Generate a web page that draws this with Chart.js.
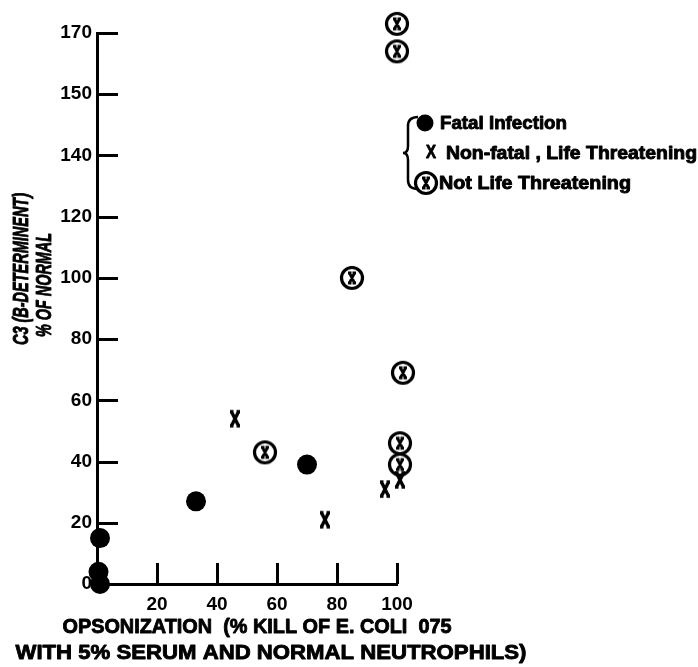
<!DOCTYPE html>
<html>
<head>
<meta charset="utf-8">
<script src="https://cdn.jsdelivr.net/npm/chart.js@4.4.1/dist/chart.umd.min.js"></script>
<style>
  html, body { margin: 0; padding: 0; background: #fff; }
</style>
</head>
<body>
<canvas id="chart" width="698" height="667"></canvas>
<script>
// y axis in the figure is not linear: every tick is the same distance apart
const yTickValues = [0, 20, 40, 60, 80, 100, 120, 140, 150, 170];
const xTickValues = [20, 40, 60, 80, 100];

// Fatal infection (filled circles)
const fatalX = [1, 0.5, 1, 33, 70];
const fatalY = [15, 4, 0, 27, 39];
// Non-fatal, life threatening (x)
const nonFatalX = [46, 76, 96, 101];
const nonFatalY = [54, 21, 31, 34];
// Not life threatening (circled x)
const notThreatX = [100, 100, 85, 102, 101, 101, 56];
const notThreatY = [173, 164, 100, 69, 46, 39, 43];

const legendLabels = ["Fatal Infection", "Non-fatal , Life Threatening", "Not Life Threatening"];
const yTitle = ["C3 (B-DETERMINENT)", "% OF NORMAL"];
const xTitle = ["OPSONIZATION  (% KILL OF E. COLI  075", "WITH 5% SERUM AND NORMAL NEUTROPHILS)"];

const FONT = "'Liberation Sans', Arial, sans-serif";

// value -> slot position between evenly spaced ticks
function valueToSlot(v) {
  const t = yTickValues;
  const n = t.length;
  if (v <= t[0]) return (v - t[0]) / (t[1] - t[0]);
  for (let i = 0; i < n - 1; i++) {
    if (v <= t[i + 1]) return i + (v - t[i]) / (t[i + 1] - t[i]);
  }
  return n - 1 + (v - t[n - 1]) / (t[n - 1] - t[n - 2]);
}

class SteppedScale extends Chart.LinearScale {
  static id = 'stepped';
  determineDataLimits() {
    this.min = yTickValues[0];
    this.max = yTickValues[yTickValues.length - 1];
  }
  buildTicks() {
    return yTickValues.map(v => ({ value: v }));
  }
  getPixelForValue(value) {
    if (value === null || isNaN(value)) return NaN;
    return this.getPixelForDecimal(valueToSlot(value) / (yTickValues.length - 1));
  }
}
Chart.register(SteppedScale);

function makeMark(size, draw) {
  const c = document.createElement('canvas');
  c.width = c.height = size;
  const g = c.getContext('2d');
  g.translate(size / 2, size / 2);
  g.strokeStyle = '#000';
  draw(g);
  return c;
}
function drawX(g, w, h, lw) {
  g.lineWidth = lw;
  g.beginPath();
  g.moveTo(-w, -h); g.lineTo(w, h);
  g.moveTo(w, -h); g.lineTo(-w, h);
  // flared ends
  g.moveTo(-w - 1.5, -h); g.lineTo(-w + 2, -h);
  g.moveTo(w - 2, -h); g.lineTo(w + 1.5, -h);
  g.moveTo(-w - 1.5, h); g.lineTo(-w + 2, h);
  g.moveTo(w - 2, h); g.lineTo(w + 1.5, h);
  g.stroke();
}
const xMark = makeMark(22, g => drawX(g, 3.5, 7, 3.4));
const circledX = makeMark(28, g => {
  g.lineWidth = 3.2;
  g.beginPath();
  g.arc(0, 0, 10.5, 0, Math.PI * 2);
  g.stroke();
  drawX(g, 2.5, 5, 2.8);
});

function fitText(ctx, text, cx, cy, width, font, angle) {
  ctx.save();
  ctx.font = font;
  const w = ctx.measureText(text).width;
  ctx.translate(cx, cy);
  if (angle) ctx.rotate(angle);
  ctx.scale(width / w, 1);
  ctx.textAlign = 'center';
  ctx.textBaseline = 'middle';
  ctx.fillStyle = '#000';
  ctx.strokeStyle = '#000';
  ctx.lineWidth = 0.9;
  ctx.lineJoin = 'round';
  ctx.fillText(text, 0, 0);
  ctx.strokeText(text, 0, 0);
  ctx.restore();
}

const decor = {
  id: 'decor',
  beforeDatasetsDraw(chart) {
    const { ctx, scales: { x, y } } = chart;
    ctx.save();
    ctx.strokeStyle = '#000';
    ctx.lineWidth = 3;
    ctx.beginPath();
    yTickValues.slice(1).forEach(v => {
      const py = Math.round(y.getPixelForValue(v)) + 0.5;
      ctx.moveTo(x.left, py);
      ctx.lineTo(x.left + 21, py);
    });
    xTickValues.forEach(v => {
      const px = Math.round(x.getPixelForValue(v)) + 0.5;
      ctx.moveTo(px, y.bottom);
      ctx.lineTo(px, y.bottom - 21);
    });
    ctx.stroke();
    ctx.restore();
  },
  afterDraw(chart) {
    const { ctx } = chart;
    // axis titles
    fitText(ctx, yTitle[0], 22, 269, 152, "italic bold 22px " + FONT, -Math.PI / 2);
    fitText(ctx, yTitle[1], 45, 285, 104, "italic bold 22px " + FONT, -Math.PI / 2);
    fitText(ctx, xTitle[0], 257, 627, 389, "bold 21px " + FONT);
    fitText(ctx, xTitle[1], 271, 653, 511, "bold 21px " + FONT);

    // legend with brace
    ctx.save();
    ctx.strokeStyle = '#000';
    ctx.lineWidth = 2.5;
    ctx.beginPath();
    ctx.moveTo(418, 117);
    ctx.quadraticCurveTo(408, 117, 408, 126);
    ctx.lineTo(408, 146);
    ctx.quadraticCurveTo(408, 153, 403, 153);
    ctx.quadraticCurveTo(408, 153, 408, 160);
    ctx.lineTo(408, 180);
    ctx.quadraticCurveTo(408, 189, 418, 189);
    ctx.stroke();
    ctx.fillStyle = '#000';
    ctx.beginPath();
    ctx.arc(425, 123, 8.5, 0, Math.PI * 2);
    ctx.fill();
    ctx.drawImage(circledX, 426 - 14, 183 - 14);
    ctx.restore();
    fitText(ctx, "X", 431, 153, 10, "bold 18px " + FONT);
    fitText(ctx, legendLabels[0], 440 + 63.5, 124, 127, "bold 18px " + FONT);
    fitText(ctx, legendLabels[1], 446 + 125.5, 154, 251, "bold 18px " + FONT);
    fitText(ctx, legendLabels[2], 439 + 96, 184, 192, "bold 18px " + FONT);
  }
};

const tickFont = { family: FONT, size: 19, weight: 'bold' };

new Chart(document.getElementById('chart'), {
  type: 'scatter',
  data: {
    datasets: [
      {
        label: legendLabels[0],
        data: fatalX.map((x, i) => ({ x, y: fatalY[i] })),
        pointStyle: 'circle',
        pointRadius: 10,
        backgroundColor: '#000',
        borderColor: '#000',
        borderWidth: 0,
        clip: false
      },
      {
        label: legendLabels[1],
        data: nonFatalX.map((x, i) => ({ x, y: nonFatalY[i] })),
        pointStyle: xMark,
        pointRadius: 14,
        clip: false
      },
      {
        label: legendLabels[2],
        data: notThreatX.map((x, i) => ({ x, y: notThreatY[i] })),
        pointStyle: circledX,
        pointRadius: 16,
        clip: false
      }
    ]
  },
  options: {
    responsive: false,
    animation: false,
    devicePixelRatio: 1,
    layout: { padding: { top: 33, right: 301, bottom: 0, left: 0 } },
    plugins: { legend: { display: false }, tooltip: { enabled: false } },
    scales: {
      x: {
        type: 'linear',
        min: 0,
        max: 100,
        grid: { display: false, drawTicks: false },
        border: { display: true, width: 3, color: '#000' },
        ticks: {
          stepSize: 20,
          autoSkip: false,
          padding: 9,
          color: '#000',
          font: tickFont,
          callback: v => (v === 0 ? '' : v)
        },
        afterFit: s => { s.height = 83; }
      },
      y: {
        type: 'stepped',
        position: 'left',
        grid: { display: false, drawTicks: false },
        border: { display: true, width: 3, color: '#000' },
        ticks: {
          autoSkip: false,
          padding: 5,
          color: '#000',
          font: tickFont,
          callback: v => String(v)
        },
        afterFit: s => { s.width = 97; }
      }
    }
  },
  plugins: [decor]
});
</script>
</body>
</html>
